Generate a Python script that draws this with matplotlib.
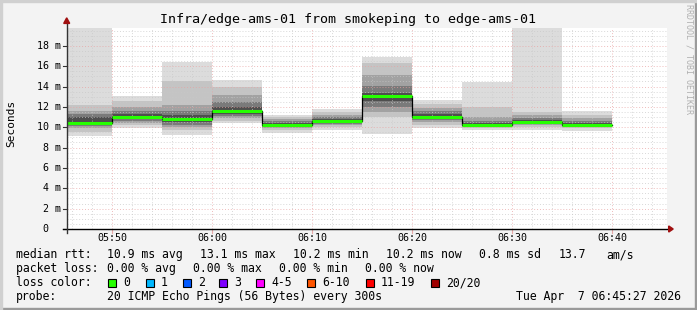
import matplotlib
matplotlib.use("Agg")
import matplotlib.pyplot as plt
from matplotlib.patches import Rectangle, Polygon

# Data: 5-minute bins, ping distribution (ms)
bin_starts = ["05:45", "05:50", "05:55", "06:00", "06:05", "06:10",
              "06:15", "06:20", "06:25", "06:30", "06:35"]
median = [10.45, 11.0, 10.8, 11.6, 10.2, 10.6, 13.1, 11.0, 10.2, 10.5, 10.2]
# band edges from outer (min/max) to inner
lo = [
    [9.1, 9.9, 9.2, 10.4, 9.4, 9.7, 9.3, 9.9, 9.7, 9.7, 9.65],
    [9.55, 10.2, 9.7, 10.6, 9.7, 10.0, 11.0, 10.2, 9.9, 10.0, 9.9],
    [9.9, 10.45, 10.0, 10.9, 9.9, 10.2, 11.5, 10.5, 10.0, 10.2, 10.0],
    [10.1, 10.6, 10.2, 11.1, 10.0, 10.35, 12.0, 10.7, 10.1, 10.3, 10.1],
    [10.25, 10.8, 10.5, 11.3, 10.1, 10.45, 12.6, 10.85, 10.15, 10.4, 10.15],
]
hi = [
    [20.0, 13.1, 16.4, 14.6, 11.2, 11.75, 16.9, 12.7, 14.4, 20.0, 11.6],
    [12.2, 12.6, 14.5, 14.0, 11.0, 11.5, 16.3, 12.3, 11.95, 11.5, 11.2],
    [11.6, 12.0, 12.2, 13.2, 10.8, 11.2, 15.1, 11.9, 11.0, 11.2, 10.9],
    [11.3, 11.6, 11.6, 12.5, 10.6, 11.0, 14.1, 11.6, 10.6, 10.9, 10.6],
    [11.0, 11.3, 11.2, 12.0, 10.4, 10.8, 13.4, 11.3, 10.4, 10.7, 10.4],
]
tick_labels = ["05:50", "06:00", "06:10", "06:20", "06:30", "06:40"]
y_labels = ["0  ", "2 m", "4 m", "6 m", "8 m", "10 m", "12 m", "14 m", "16 m", "18 m"]
loss_labels = ["0", "1", "2", "3", "4-5", "6-10", "11-19", "20/20"]
loss_colors = ["#26ff00", "#00b8ff", "#0059ff", "#7e00ff", "#ff00ff", "#ff5500", "#ff0000", "#a00000"]


def to_min(s):
    h, m = s.split(":")
    return int(h) * 60 + int(m)


starts = [to_min(s) for s in bin_starts]
ticks = [to_min(s) for s in tick_labels]
t_start = 5 * 60 + 45 + 27 / 60
t_end = t_start + 60

W, H = 697, 310
fig = plt.figure(figsize=(W / 100, H / 100), dpi=100)
fig.patch.set_facecolor("#f3f3f3")
mono = "DejaVu Sans Mono"

left, right, top, bottom = 66.7, 666.7, 28, 229
ax = fig.add_axes([left / W, 1 - bottom / H, (right - left) / W, (bottom - top) / H])
ax.set_facecolor("white")
ax.set_xlim(t_start, t_end)
ax.set_ylim(0, 19.75)
for s in ax.spines.values():
    s.set_visible(False)
ax.set_xticks([])
ax.set_yticks([])

# grid (drawn over the smoke, faint)
for y in [i * 0.5 for i in range(1, 40)]:
    c = "#e8a0a0" if y % 2 == 0 else "#c8c8c8"
    ax.axhline(y, color=c, lw=0.7, ls=(0, (1, 2)), alpha=0.7, zorder=5)
m = 346
while m < t_end:
    c = "#e8a0a0" if m % 10 == 0 else "#c8c8c8"
    ax.axvline(m, color=c, lw=0.7, ls=(0, (1, 2)), alpha=0.7, zorder=5)
    m += 2

# smoke
shades = ["#dcdcdc", "#c4c4c4", "#a2a2a2", "#7a7a7a", "#4e4e4e"]
for k in range(len(lo)):
    for i, s in enumerate(starts):
        ax.bar(s, hi[k][i] - lo[k][i], bottom=lo[k][i], width=5, align="edge",
               color=shades[k], lw=0, zorder=2)

# median
ax.step(starts + [starts[-1] + 5], median + [median[-1]], where="post",
        color="black", lw=0.9, zorder=6)
ax.hlines(median, starts, [s + 5 for s in starts], color="#26ff00", lw=2.2, zorder=7)

# axes with arrows
ax.plot([t_start - 0.4, t_end + 0.3], [0, 0], color="black", lw=1, clip_on=False, zorder=8)
ax.plot([t_start, t_start], [-0.35, 20.2], color="#333333", lw=1, clip_on=False, zorder=8)
ax.add_patch(Polygon([[t_end + 0.2, 0.3], [t_end + 0.2, -0.3], [t_end + 0.65, 0]],
                     closed=True, color="#a01010", clip_on=False, zorder=9))
ax.add_patch(Polygon([[t_start - 0.3, 20.2], [t_start + 0.3, 20.2], [t_start, 20.75]],
                     closed=True, color="#a01010", clip_on=False, zorder=9))
for i in range(len(y_labels)):
    ax.plot([t_start - 0.35, t_start], [i * 2, i * 2], color="#333333", lw=0.8, clip_on=False)
for t in ticks:
    ax.plot([t, t], [-0.35, 0], color="#e8a8a8", lw=0.8, clip_on=False)


def px(x, y):
    return x / W, 1 - y / H


# labels
for i, lab in enumerate(y_labels):
    yp = bottom - i * 2 * (bottom - top) / 19.75
    fig.text(*px(60.5, yp), lab, ha="right", va="center", family=mono, fontsize=7.2)
for t, lab in zip(ticks, tick_labels):
    xp = left + (t - t_start) * 10
    fig.text(*px(xp, 238), lab, ha="center", va="center", family=mono, fontsize=7.2)

fig.text(*px(348, 19), "Infra/edge-ams-01 from smokeping to edge-ams-01",
         ha="center", va="center", family=mono, fontsize=9.6)
fig.text(*px(11, 123), "Seconds", rotation=90, ha="center", va="center",
         family=mono, fontsize=8)
fig.text(*px(689, 4), "RRDTOOL / TOBI OETIKER", rotation=270, ha="center", va="top",
         family=mono, fontsize=6, color="#b0b0b0")

fs = 8.3
row1 = [(16, "median rtt:"), (107.3, "10.9 ms avg"), (200, "13.1 ms max"),
        (293.3, "10.2 ms min"), (386, "10.2 ms now"), (479.3, "0.8 ms sd"),
        (558.3, "13.7"), (606.7, "am/s")]
for x, s in row1:
    fig.text(*px(x, 254.5), s, ha="left", va="center", family=mono, fontsize=fs)
row2 = [(16, "packet loss:"), (107.3, "0.00 % avg"), (193.3, "0.00 % max"),
        (279.3, "0.00 % min"), (365, "0.00 % now")]
for x, s in row2:
    fig.text(*px(x, 268.5), s, ha="left", va="center", family=mono, fontsize=fs)

fig.text(*px(16, 282.5), "loss color:", ha="left", va="center", family=mono, fontsize=fs)
box_x = [108.3, 145.7, 182.7, 219.3, 256, 307.3, 365.7, 430.7]
for bx, lab, c in zip(box_x, loss_labels, loss_colors):
    fig.patches.append(Rectangle(px(bx, 286.5), 8 / W, 8 / H, transform=fig.transFigure,
                                 facecolor=c, edgecolor="black", lw=0.8))
    fig.text(*px(bx + 15, 282.5), lab, ha="left", va="center", family=mono, fontsize=fs)

fig.text(*px(16, 296.5), "probe:", ha="left", va="center", family=mono, fontsize=fs)
fig.text(*px(107.3, 296.5), "20 ICMP Echo Pings (56 Bytes) every 300s",
         ha="left", va="center", family=mono, fontsize=fs)
fig.text(*px(680.5, 296.5), "Tue Apr  7 06:45:27 2026", ha="right", va="center",
         family=mono, fontsize=fs)

# frame
fig.patches.append(Rectangle((0, 0), 1, 2 / H, transform=fig.transFigure, color="#9a9a9a"))
fig.patches.append(Rectangle((1 - 2 / W, 0), 2 / W, 1, transform=fig.transFigure, color="#9a9a9a"))
fig.patches.append(Rectangle((0, 1 - 2 / H), 1, 2 / H, transform=fig.transFigure, color="#d0d0d0"))
fig.patches.append(Rectangle((0, 0), 2 / W, 1, transform=fig.transFigure, color="#d0d0d0"))

fig.savefig("out.png", dpi=100, facecolor=fig.get_facecolor())
